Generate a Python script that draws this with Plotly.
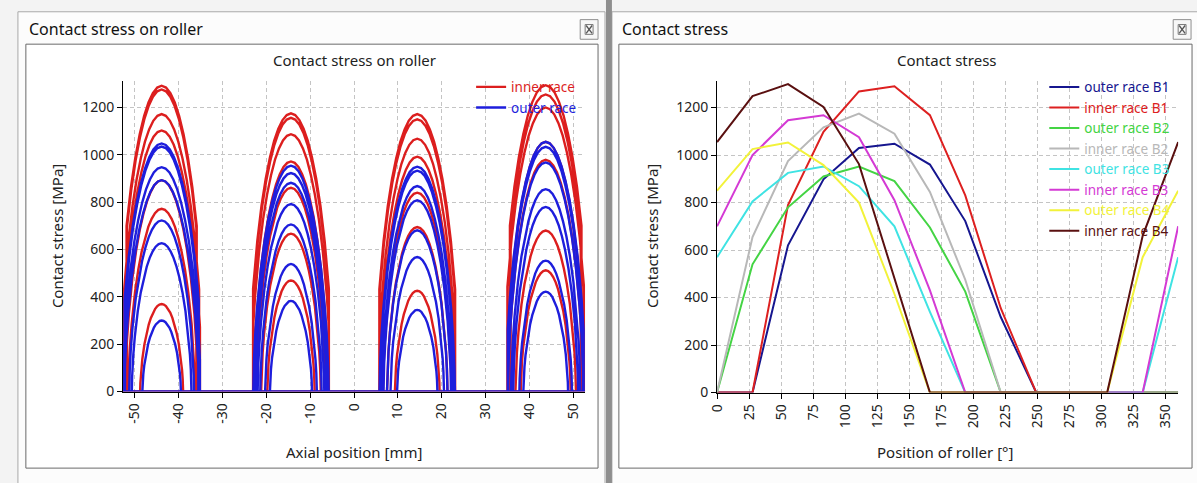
import plotly.graph_objects as go

W, H = 1197, 483

# ---------------- left chart: contact stress on roller (axial profile) ----------------
AXIAL_RANGE = [-52.7, 52.7]
X_TICKS_L = [-50, -40, -30, -20, -10, 0, 10, 20, 30, 40, 50]
X_TICK_LABELS_L = ["-50", "-40", "-30", "-20", "-10", "0", "10", "20", "30", "40", "50"]
Y_TICKS = [0, 200, 400, 600, 800, 1000, 1200]
Y_TICK_LABELS = ["0", "200", "400", "600", "800", "1000", "1200"]
Y_RANGE = [0, 1310]

ROLLER_CENTRES = [-43.9, -14.4, 14.4, 43.7]   # mm, rows B1..B4
ROLLER_HALF_LENGTH = 8.8                       # mm

# peak stress [MPa] of each loaded roller, per row, and contact half width [mm]
INNER_PEAKS = [
    [1292, 1276, 1172, 1103, 893, 772, 370],
    [1175, 1156, 1087, 972, 861, 667, 469],
    [1172, 1150, 1068, 992, 840, 695, 426],
    [1294, 1255, 1200, 1055, 979, 680, 512],
]
INNER_HALF_WIDTHS = [
    [10.0, 9.9, 9.5, 9.2, 8.3, 7.6, 4.9],
    [9.6, 9.5, 9.1, 8.5, 7.9, 6.8, 5.4],
    [9.6, 9.5, 9.0, 8.6, 7.8, 6.9, 5.1],
    [10.2, 10.0, 9.7, 9.0, 8.6, 6.9, 5.7],
]
OUTER_PEAKS = [
    [1048, 1035, 948, 893, 723, 627, 300],
    [954, 923, 882, 792, 706, 539, 383],
    [950, 933, 868, 808, 681, 568, 345],
    [1055, 1034, 968, 855, 780, 553, 422],
]
OUTER_HALF_WIDTHS = [
    [9.4, 9.3, 8.9, 8.5, 7.4, 6.8, 4.4],
    [8.6, 8.4, 8.1, 7.6, 7.0, 5.9, 4.8],
    [8.6, 8.5, 8.0, 7.7, 6.9, 6.1, 4.6],
    [9.1, 9.0, 8.6, 7.9, 7.4, 6.0, 5.1],
]
# normalised dome profile (position / half width, stress / peak)
PROFILE_U = [-1.0, -0.99, -0.98, -0.95, -0.9, -0.8, -0.7, -0.6, -0.5, -0.4, -0.3, -0.2, -0.1, 0.0,
             0.1, 0.2, 0.3, 0.4, 0.5, 0.6, 0.7, 0.8, 0.9, 0.95, 0.98, 0.99, 1.0]
PROFILE_V = [0.0, 0.095, 0.144, 0.247, 0.369, 0.542, 0.668, 0.765, 0.841, 0.901, 0.945, 0.976, 0.994, 1.0,
             0.994, 0.976, 0.945, 0.901, 0.841, 0.765, 0.668, 0.542, 0.369, 0.247, 0.144, 0.095, 0.0]

# ---------------- right chart: contact stress vs roller position ----------------
ROLLER_ANGLES = [0, 27.7, 55.4, 83.1, 110.8, 138.5, 166.2, 193.8, 221.5, 249.2, 276.9, 304.6, 332.3, 360]
X_TICKS_R = [0, 25, 50, 75, 100, 125, 150, 175, 200, 225, 250, 275, 300, 325, 350]
SERIES_NAMES = ["outer race B1", "inner race B1", "outer race B2", "inner race B2",
                "outer race B3", "inner race B3", "outer race B4", "inner race B4"]
OUTER_B1 = [0, 0, 620, 898, 1030, 1048, 960, 722, 318, 0, 0, 0, 0, 0]
INNER_B1 = [0, 0, 790, 1098, 1268, 1290, 1168, 830, 355, 0, 0, 0, 0, 0]
OUTER_B2 = [0, 540, 780, 910, 952, 890, 695, 425, 0, 0, 0, 0, 0, 0]
INNER_B2 = [0, 655, 975, 1117, 1175, 1090, 845, 475, 0, 0, 0, 0, 0, 0]
OUTER_B3 = [570, 805, 925, 952, 869, 700, 340, 0, 0, 0, 0, 0, 0, 570]
INNER_B3 = [700, 1000, 1147, 1168, 1075, 810, 430, 0, 0, 0, 0, 0, 0, 700]
OUTER_B4 = [850, 1025, 1053, 958, 800, 415, 0, 0, 0, 0, 0, 0, 570, 850]
INNER_B4 = [1055, 1248, 1299, 1203, 962, 480, 0, 0, 0, 0, 0, 0, 660, 1055]
SERIES_VALUES = [OUTER_B1, INNER_B1, OUTER_B2, INNER_B2, OUTER_B3, INNER_B3, OUTER_B4, INNER_B4]
SERIES_COLORS = ["#16168f", "#dd2020", "#44d444", "#b8b8b8", "#3fe3e3", "#d43ad4", "#f2f23a", "#5a1010"]

RED, BLUE = "#dc1e1e", "#1e1edc"
FONT = "Noto Sans"


def px(x):
    return x / W


def py(y):
    return 1 - y / H


def race_xy(peaks_by_row, widths_by_row):
    xs, ys = [AXIAL_RANGE[0]], [0]
    for c, peaks, widths in zip(ROLLER_CENTRES, peaks_by_row, widths_by_row):
        for p, hw in zip(peaks, widths):
            pts = [(c + hw * u, p * v) for u, v in zip(PROFILE_U, PROFILE_V)
                   if abs(hw * u) <= ROLLER_HALF_LENGTH]
            xs.append(pts[0][0]); ys.append(0)
            for x, y in pts:
                xs.append(x); ys.append(y)
            xs.append(pts[-1][0]); ys.append(0)
    xs.append(AXIAL_RANGE[1]); ys.append(0)
    return xs, ys


fig = go.Figure()

ix, iy = race_xy(INNER_PEAKS, INNER_HALF_WIDTHS)
ox, oy = race_xy(OUTER_PEAKS, OUTER_HALF_WIDTHS)
fig.add_trace(go.Scatter(x=ix, y=iy, mode="lines", line=dict(color=RED, width=2.4),
                         name=f"<span style='color:{RED}'>inner race</span>",
                         xaxis="x", yaxis="y", legend="legend"))
fig.add_trace(go.Scatter(x=ox, y=oy, mode="lines", line=dict(color=BLUE, width=2.4),
                         name=f"<span style='color:{BLUE}'>outer race</span>",
                         xaxis="x", yaxis="y", legend="legend"))

for name, vals, col in zip(SERIES_NAMES, SERIES_VALUES, SERIES_COLORS):
    fig.add_trace(go.Scatter(x=ROLLER_ANGLES, y=vals, mode="lines", line=dict(color=col, width=2),
                             name=f"<span style='color:{col}'>{name}</span>",
                             xaxis="x2", yaxis="y2", legend="legend2"))

axis_common = dict(showline=True, linecolor="black", linewidth=1, ticks="outside", ticklen=5,
                   tickcolor="black", showgrid=True, gridcolor="#c4c4c4", griddash="4px,3px",
                   gridwidth=1, zeroline=False, tickfont=dict(family=FONT, size=14, color="#222"),
                   mirror=False)

fig.update_layout(
    width=W, height=H, margin=dict(l=0, r=0, t=0, b=0),
    paper_bgcolor="#f3f3f3", plot_bgcolor="white",
    font=dict(family=FONT, size=14, color="#222"),
    xaxis=dict(domain=[px(114), px(580)], range=AXIAL_RANGE, tickvals=X_TICKS_L,
               ticktext=X_TICK_LABELS_L, tickangle=-90, anchor="y", **axis_common),
    yaxis=dict(domain=[py(399), py(83)], range=Y_RANGE, tickvals=Y_TICKS,
               ticktext=Y_TICK_LABELS, anchor="x", **axis_common),
    xaxis2=dict(domain=[px(713), px(1178)], range=[0, 360], tickvals=X_TICKS_R,
                tickangle=-90, anchor="y2", **axis_common),
    yaxis2=dict(domain=[py(400), py(83)], range=Y_RANGE, tickvals=Y_TICKS,
                ticktext=Y_TICK_LABELS, anchor="x2", **axis_common),
    legend=dict(x=px(465), y=py(73), xanchor="left", yanchor="top", bgcolor="rgba(0,0,0,0)",
                font=dict(family=FONT, size=13.5), tracegroupgap=0, itemwidth=30),
    legend2=dict(x=px(1043), y=py(73), xanchor="left", yanchor="top", bgcolor="rgba(0,0,0,0)",
                 font=dict(family=FONT, size=13.5), tracegroupgap=0, itemwidth=30),
)

shapes = []


def rect(x0, y0, x1, y1, fill, line, lw=1):
    shapes.append(dict(type="rect", xref="paper", yref="paper", x0=px(x0), x1=px(x1),
                       y0=py(y1), y1=py(y0), fillcolor=fill, line=dict(color=line, width=lw),
                       layer="below"))


def seg(x0, y0, x1, y1, color, lw=1.5):
    shapes.append(dict(type="line", xref="paper", yref="paper", x0=px(x0), x1=px(x1),
                       y0=py(y0), y1=py(y1), line=dict(color=color, width=lw), layer="above"))


# windows
rect(8, 12, 600, 495, "#fcfcfc", "#a8a8a8")
rect(607, 12, 1205, 495, "#fcfcfc", "#a8a8a8")
rect(601, -5, 607, 495, "#8e8e8e", "#8e8e8e", 0)
rect(16, 45, 593, 477, "white", "#6a6a6a")
rect(614, 45, 1192, 477, "white", "#6a6a6a")
# close buttons
for bx in (575, 1173):
    rect(bx, 20, bx + 18, 40, "#f7f7f7", "#8f8f8f")
    rect(bx + 5, 25, bx + 13, 35, "rgba(0,0,0,0)", "#7a7a7a")
    seg(bx + 6, 26, bx + 12, 34, "#555555", 1.3)
    seg(bx + 12, 26, bx + 6, 34, "#555555", 1.3)

ann = []


def text(x, y, s, size=15, xanchor="center", angle=0, color="#222"):
    ann.append(dict(xref="paper", yref="paper", x=px(x), y=py(y), text=s, showarrow=False,
                    xanchor=xanchor, yanchor="middle", textangle=angle,
                    font=dict(family=FONT, size=size, color=color)))


text(17, 30, "Contact stress on roller", size=16, xanchor="left", color="#111")
text(615, 30, "Contact stress", size=16, xanchor="left", color="#111")
text(347, 61, "Contact stress on roller")
text(945, 61, "Contact stress")
text(47, 241, "Contact stress [MPa]", angle=-90)
text(647, 241, "Contact stress [MPa]", angle=-90)
text(347, 461, "Axial position [mm]")
text(943, 461, "Position of roller [°]")

fig.update_layout(shapes=shapes, annotations=ann)
fig.write_html("out.html", config={"displayModeBar": False},
               post_script="document.body.style.margin='0';document.body.style.overflow='hidden';")
